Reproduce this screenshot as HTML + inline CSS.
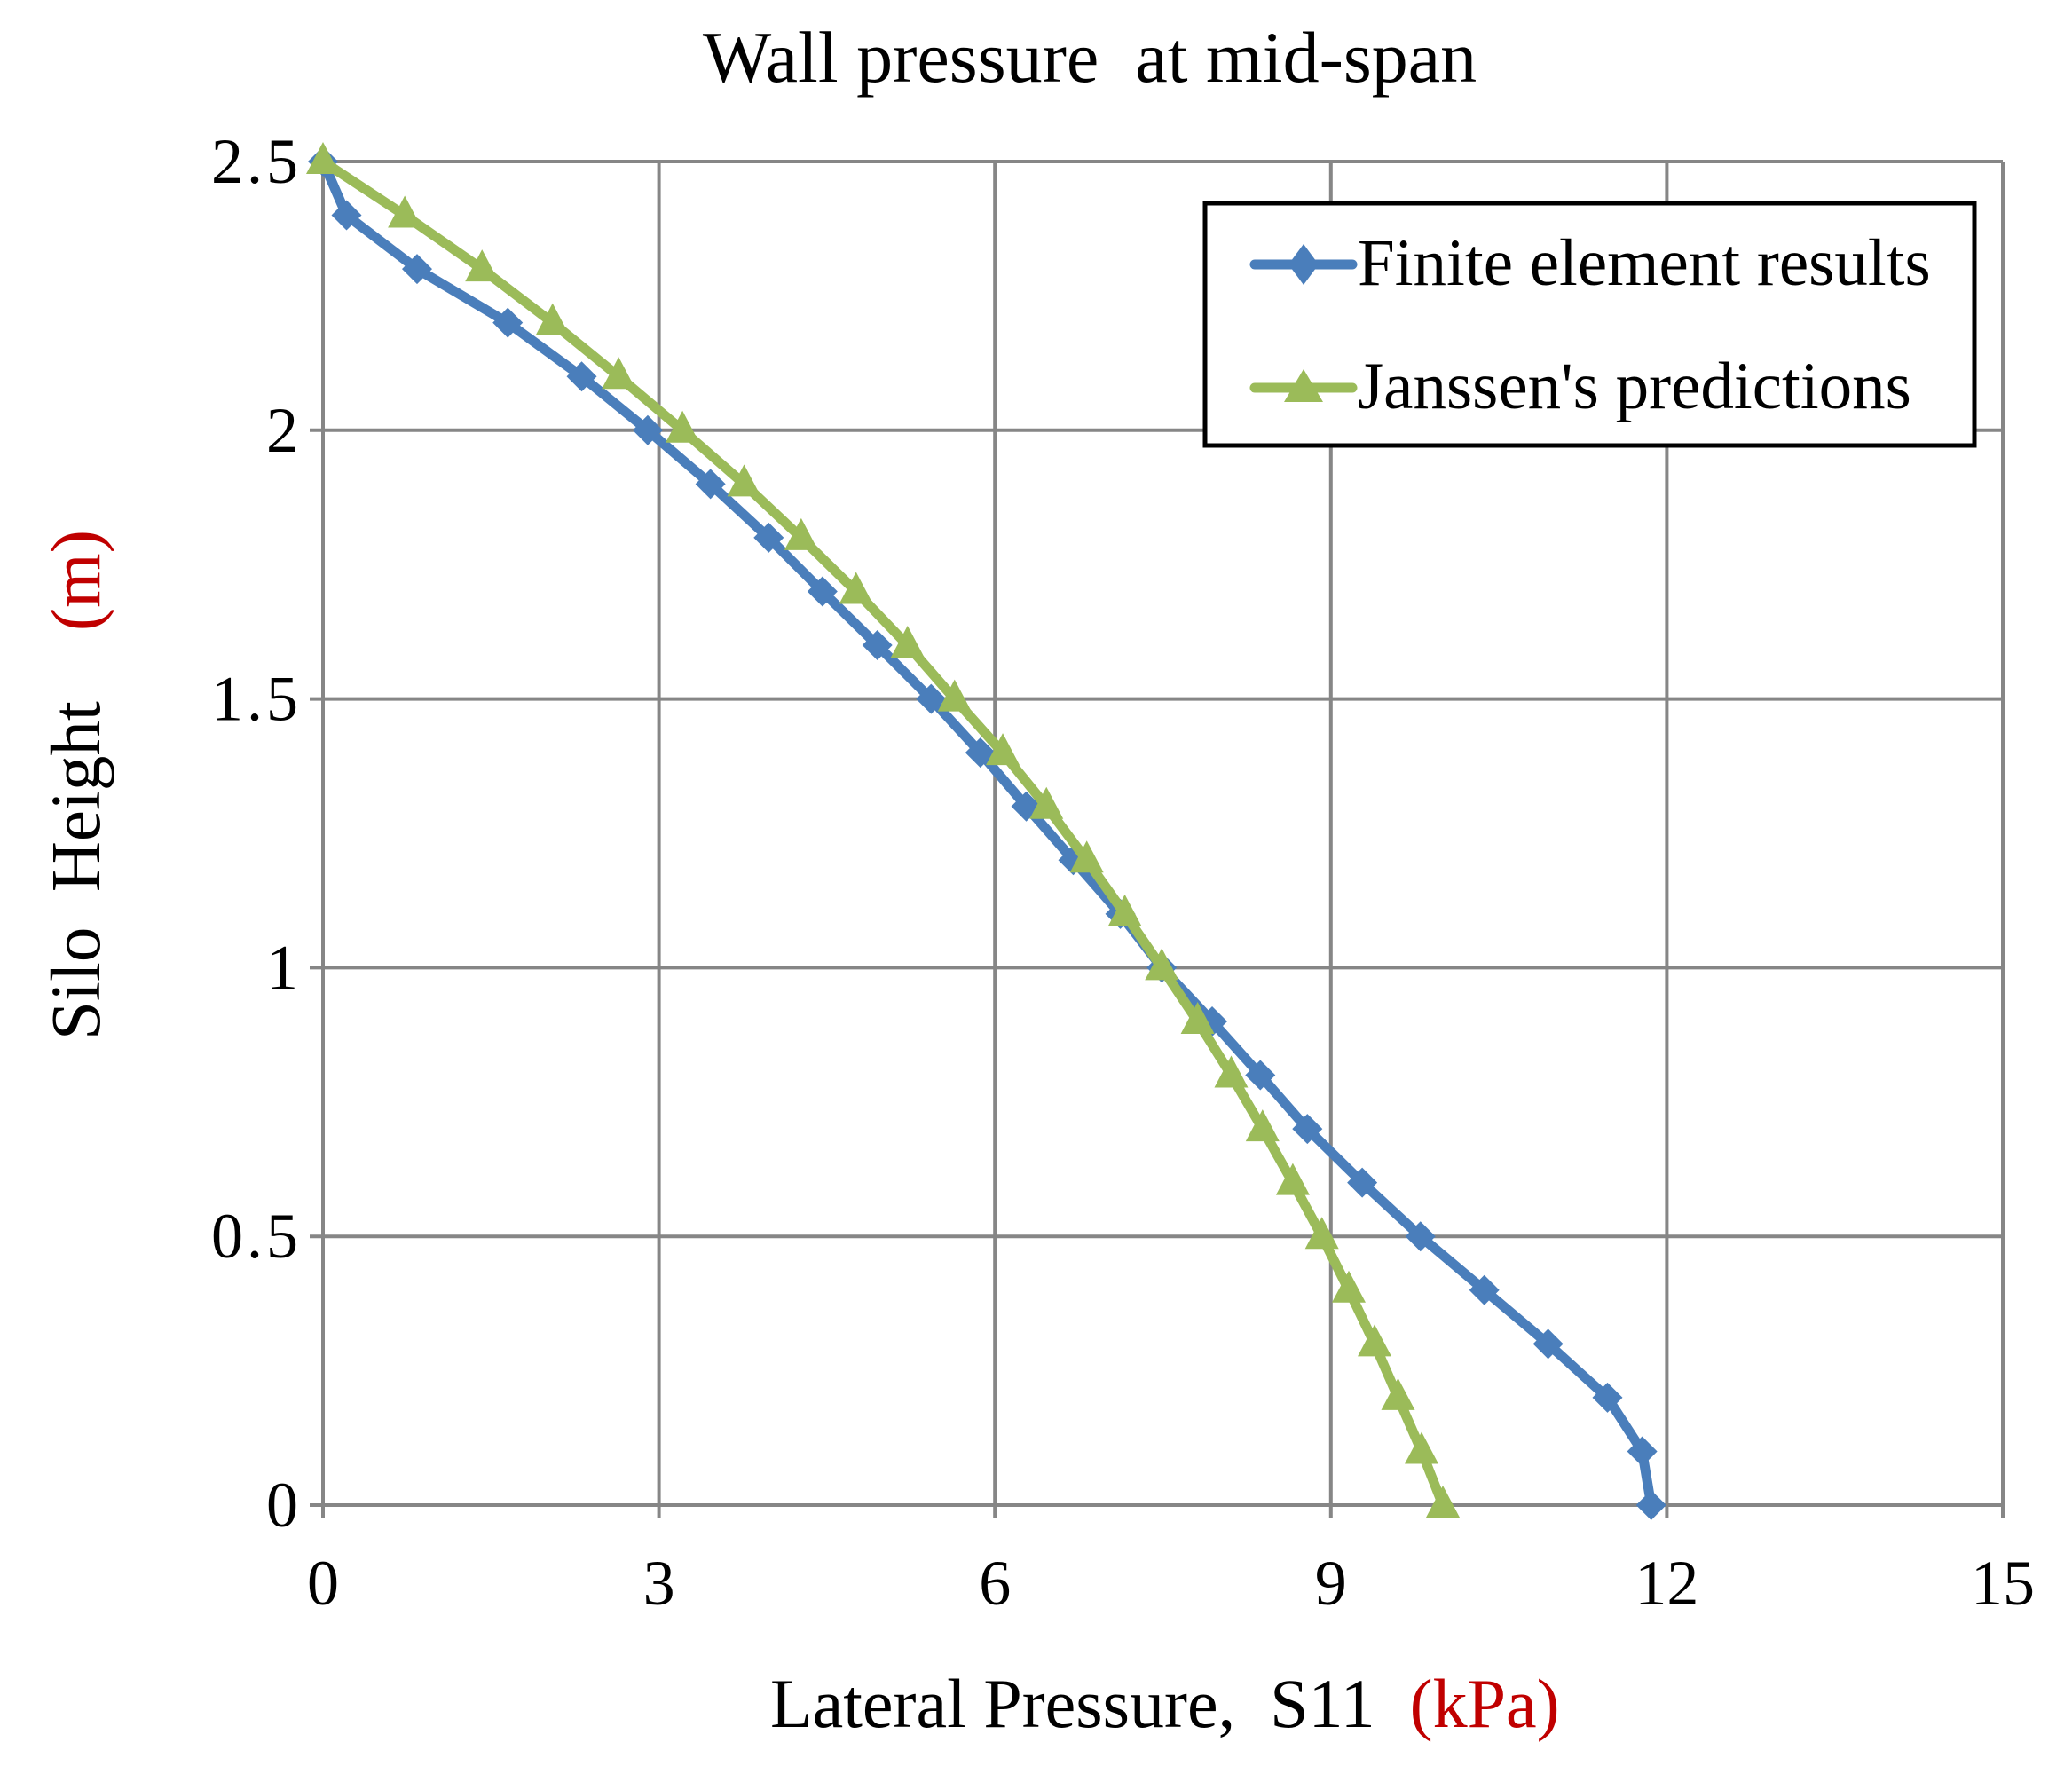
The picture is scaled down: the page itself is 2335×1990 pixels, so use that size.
<!DOCTYPE html>
<html><head><meta charset="utf-8"><style>
html,body{margin:0;padding:0;background:#fff;}
svg{display:block;}
text{font-family:"Liberation Serif",serif;}
</style></head><body>
<svg id="s" width="2335" height="1990" viewBox="0 0 2335 1990" xmlns="http://www.w3.org/2000/svg">
<rect width="2335" height="1990" fill="#fff"/>
<text x="1228" y="92" font-size="82" text-anchor="middle" fill="#000" xml:space="preserve">Wall pressure  at mid-span</text>
<g id="grid"></g>
<g id="series"></g>
<text x="868" y="1946" font-size="78" fill="#000" xml:space="preserve">Lateral Pressure,  S11  <tspan fill="#c00000">(kPa)</tspan></text>
<text transform="translate(112,1172) rotate(-90)" font-size="79" fill="#000" xml:space="preserve">Silo  Height    <tspan fill="#c00000">(m)</tspan></text>
<rect x="1358" y="229" width="867" height="273" fill="#fff" stroke="#000" stroke-width="5"/>
<line x1="1414" y1="298" x2="1524" y2="298" stroke="#4a7ebb" stroke-width="11" stroke-linecap="round"/>
<polygon points="1469,275 1486,298 1469,321 1452,298" fill="#4a7ebb"/>
<text x="1530" y="321" font-size="75" fill="#000">Finite element results</text>
<line x1="1414" y1="437" x2="1524" y2="437" stroke="#9bbb59" stroke-width="11" stroke-linecap="round"/>
<polygon points="1469,416 1491,453 1447,453" fill="#9bbb59"/>
<text x="1530" y="460" font-size="75" fill="#000">Janssen's predictions</text>
</svg>
<script>
var L=364,R=2257,T=182,B=1696;
function X(v){return L+(R-L)*v/15;} function Y(v){return B-(B-T)*v/2.5;}
var g='';
for(var i=0;i<=5;i++){var x=X(i*3);g+='<line x1="'+x+'" y1="'+T+'" x2="'+x+'" y2="'+(B+15)+'" stroke="#868686" stroke-width="4"/>';
g+='<text x="'+x+'" y="1808" font-size="72" text-anchor="middle">'+(i*3)+'</text>';}
var yl=['0','0.5','1','1.5','2','2.5'];
for(var j=0;j<=5;j++){var y=Y(j*0.5);g+='<line x1="'+(L-15)+'" y1="'+y+'" x2="'+R+'" y2="'+y+'" stroke="#868686" stroke-width="4"/>';
g+='<text x="340" y="'+(y+24)+'" font-size="72" text-anchor="end" letter-spacing="4">'+yl[j]+'</text>';}
document.getElementById('grid').innerHTML=g;
var fe=[0,0.21,0.84,1.65,2.31,2.9,3.46,3.98,4.46,4.95,5.43,5.87,6.28,6.70,7.12,7.49,7.94,8.37,8.79,9.28,9.80,10.37,10.94,11.47,11.78,11.86];
var ja=[0,0.73,1.42,2.05,2.64,3.21,3.76,4.27,4.76,5.22,5.64,6.07,6.46,6.82,7.16,7.49,7.81,8.11,8.39,8.66,8.92,9.16,9.39,9.60,9.81,10.0];
var s='',p1=[],p2=[];
for(var k=0;k<26;k++){var h=2.5-k*0.1;p1.push(X(fe[k])+','+Y(h));p2.push(X(ja[k])+','+Y(h));}
s+='<polyline points="'+p1.join(' ')+'" fill="none" stroke="#4a7ebb" stroke-width="11" stroke-linejoin="round"/>';
for(k=0;k<26;k++){var x=X(fe[k]),y=Y(2.5-k*0.1);s+='<polygon points="'+x+','+(y-17)+' '+(x+17)+','+y+' '+x+','+(y+17)+' '+(x-17)+','+y+'" fill="#4a7ebb"/>';}
s+='<polyline points="'+p2.join(' ')+'" fill="none" stroke="#9bbb59" stroke-width="11" stroke-linejoin="round"/>';
for(k=0;k<26;k++){var x=X(ja[k]),y=Y(2.5-k*0.1);s+='<polygon points="'+x+','+(y-22)+' '+(x+19)+','+(y+14)+' '+(x-19)+','+(y+14)+'" fill="#9bbb59"/>';}
document.getElementById('series').innerHTML=s;
</script>
</body></html>
